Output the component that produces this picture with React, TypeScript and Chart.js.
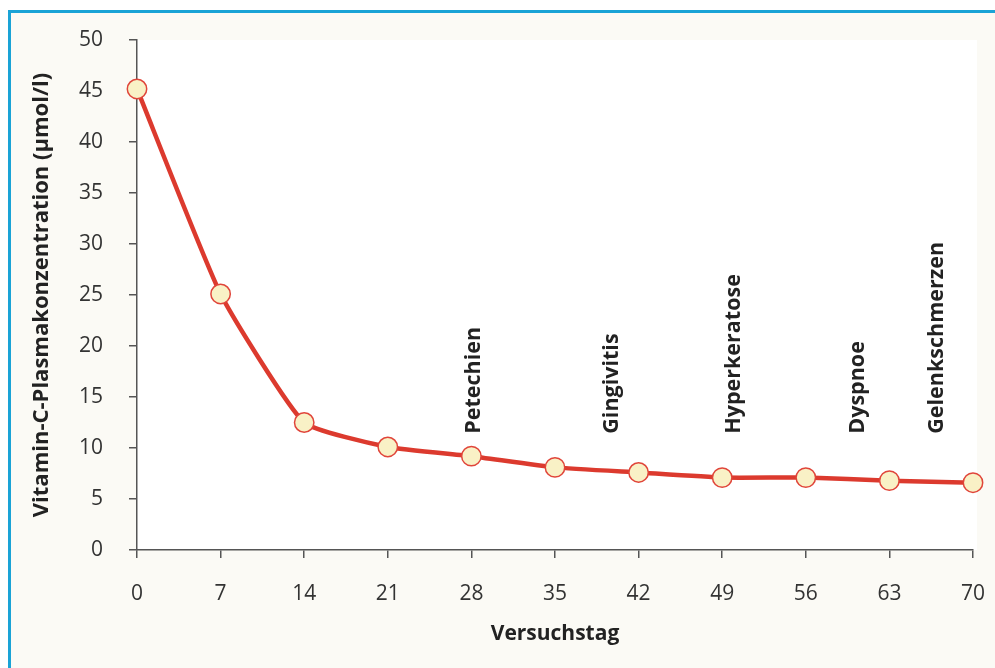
import React, { useEffect, useRef } from "react";
import { Chart, registerables } from "chart.js";

Chart.register(...registerables);

const days = [0, 7, 14, 21, 28, 35, 42, 49, 56, 63, 70];
const concentration = [45.2, 25.1, 12.5, 10.1, 9.2, 8.1, 7.6, 7.1, 7.1, 6.8, 6.6];
const symptomLabels = ["Petechien", "Gingivitis", "Hyperkeratose", "Dyspnoe", "Gelenkschmerzen"];
const symptomDays = [28.2, 39.8, 50, 60.4, 67];
const symptomBase = 11.4;
const yTitle = "Vitamin-C-Plasmakonzentration (µmol/l)";
const xTitle = "Versuchstag";

const plotBg = {
  id: "plotBg",
  beforeDraw(chart: any) {
    const { ctx, chartArea } = chart;
    ctx.save();
    ctx.fillStyle = "#ffffff";
    ctx.fillRect(chartArea.left, chartArea.top, chartArea.right - chartArea.left + 4, chartArea.bottom - chartArea.top);
    ctx.restore();
  },
};

const symptomPlugin = {
  id: "symptoms",
  afterDatasetsDraw(chart: any) {
    const { ctx, scales } = chart;
    ctx.save();
    ctx.fillStyle = "#222222";
    ctx.font = "bold 21.5px 'Open Sans', sans-serif";
    ctx.textAlign = "left";
    ctx.textBaseline = "middle";
    symptomLabels.forEach((t, i) => {
      const x = scales.x.getPixelForValue(symptomDays[i]);
      const y = scales.y.getPixelForValue(symptomBase);
      ctx.save();
      ctx.translate(x, y);
      ctx.rotate(-Math.PI / 2);
      ctx.fillText(t, 0, 0);
      ctx.restore();
    });
    ctx.restore();
  },
};

export default function App() {
  const ref = useRef<HTMLCanvasElement>(null);
  useEffect(() => {
    if (!ref.current) return;
    const axisColor = "#555555";
    const tickFont = { family: "'Open Sans', sans-serif", size: 21, weight: "normal" as const };
    const xTitleFont = { family: "'Open Sans', sans-serif", size: 21, weight: "bold" as const };
    const yTitleFont = { family: "'Open Sans', sans-serif", size: 22, weight: "bold" as const };
    const chart = new Chart(ref.current, {
      type: "line",
      data: {
        datasets: [
          {
            data: days.map((d, i) => ({ x: d, y: concentration[i] })),
            borderColor: "#dc3a2e",
            borderWidth: 4.5,
            backgroundColor: "#f9f1c6",
            pointBackgroundColor: "#f9f1c6",
            pointBorderColor: "#e0453a",
            pointBorderWidth: 1.5,
            pointRadius: 9.7,
            tension: 0.15,
            clip: false as any,
          },
        ],
      },
      options: {
        responsive: false,
        animation: false,
        devicePixelRatio: 1,
        layout: { padding: { top: 27, right: 22, left: 0, bottom: 0 } },
        plugins: { legend: { display: false }, tooltip: { enabled: false } },
        scales: {
          x: {
            type: "linear",
            min: 0,
            max: 70,
            afterFit: (s: any) => {
              s.height = 118;
              s.paddingLeft = 0;
              s.paddingRight = 0;
            },
            ticks: { stepSize: 7, color: "#333333", font: tickFont, padding: 23 },
            grid: { display: true, drawOnChartArea: false, drawTicks: true, tickLength: 8, color: axisColor, lineWidth: 1.5 },
            border: { display: true, color: axisColor, width: 1.5 },
            title: { display: true, text: xTitle, color: "#222222", font: xTitleFont, padding: { top: 0, bottom: 21 } },
          },
          y: {
            type: "linear",
            min: 0,
            max: 50,
            afterFit: (s: any) => {
              s.width = 126;
              s.paddingTop = 0;
              s.paddingBottom = 0;
            },
            ticks: { stepSize: 5, color: "#333333", font: tickFont, padding: 26 },
            grid: { display: true, drawOnChartArea: false, drawTicks: true, tickLength: 8, color: axisColor, lineWidth: 1.5 },
            border: { display: true, color: axisColor, width: 1.5 },
            title: { display: true, text: yTitle, color: "#222222", font: yTitleFont, padding: { top: 18, bottom: 0 } },
          },
        },
      },
      plugins: [plotBg, symptomPlugin],
    });
    return () => chart.destroy();
  }, []);

  return (
    <div
      style={{
        position: "absolute",
        left: 8,
        top: 10,
        width: 987,
        height: 658,
        boxSizing: "border-box",
        borderTop: "3px solid #1aa3d6",
        borderLeft: "3px solid #1aa3d6",
        background: "#fbfaf5",
      }}
    >
      <canvas ref={ref} width={984} height={655} style={{ display: "block", width: 984, height: 655 }} />
    </div>
  );
}
